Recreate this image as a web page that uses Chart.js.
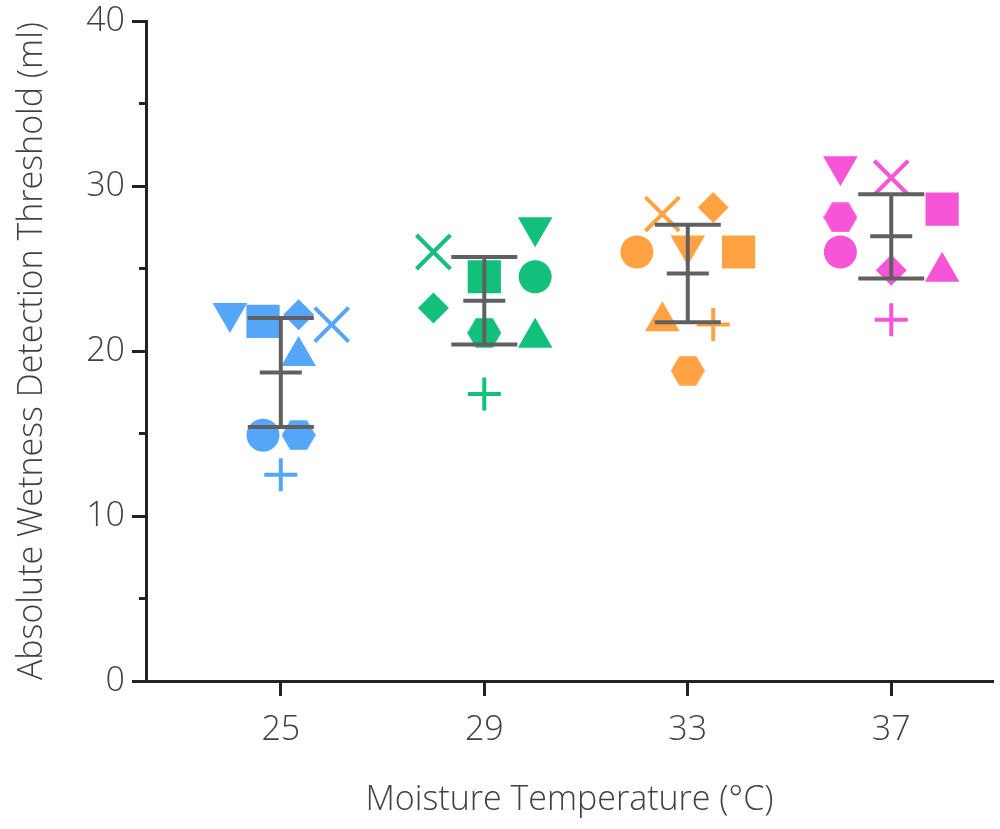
<!DOCTYPE html>
<html lang="en">

<head>
    <meta charset="UTF-8">
    <meta name="viewport" content="width=device-width, initial-scale=1.0">
    <title>Absolute Wetness Detection Threshold</title>
    <script src="https://cdn.jsdelivr.net/npm/chart.js"></script>
    <style>
        * {
            margin: 0;
            padding: 0;
            box-sizing: border-box;
        }

        body {
            background-color: #fff;
        }

        .container {
            width: 1000px;
            height: 829px;
        }
    </style>
</head>

<body>
    <div class="container">
        <canvas id="threshold-chart" width="1000" height="829"></canvas>
    </div>

    <script>
        // moisture temperatures (°C)
        const temps = [25, 29, 33, 37];
        const groupColors = ['#55a5f8', '#12bf7b', '#ffa342', '#f655d7'];

        // one array per subject marker, values for 25, 29, 33, 37 °C
        const circleVals = [14.9, 24.5, 26.0, 26.0];
        const squareVals = [21.8, 24.5, 26.0, 28.6];
        const triUpVals = [19.7, 20.8, 21.8, 24.8];
        const triDownVals = [22.3, 27.5, 26.4, 31.2];
        const diamondVals = [22.2, 22.6, 28.7, 24.9];
        const hexagonVals = [14.9, 21.1, 18.8, 28.1];
        const plusVals = [12.5, 17.4, 21.6, 21.9];
        const crossVals = [21.6, 26.0, 28.3, 30.5];

        // horizontal jitter of each marker (in °C)
        const circleJit = [-0.35, 1, -1, -1];
        const squareJit = [-0.35, 0, 1, 1];
        const triUpJit = [0.35, 1, -0.5, 1];
        const triDownJit = [-1, 1, 0, -1];
        const diamondJit = [0.35, -1, 0.5, 0];
        const hexagonJit = [0.35, 0, 0, -1];
        const plusJit = [0, 0, 0.5, 0];
        const crossJit = [1, -1, -0.5, 0];

        // group mean and error bar half length
        const means = [18.7, 23.05, 24.7, 26.95];
        const errs = [3.3, 2.65, 2.95, 2.55];

        const yTicks = [0, 10, 20, 30, 40];
        const yMinorTicks = [5, 15, 25, 35];

        function points(vals, jit) {
            return vals.map(function (v, i) {
                return { x: temps[i] + jit[i], y: v };
            });
        }

        function makeHexagon(color) {
            var c = document.createElement('canvas');
            c.width = 34;
            c.height = 30;
            var g = c.getContext('2d');
            var s = 17, h = Math.sqrt(3) * s / 2;
            g.fillStyle = color;
            g.beginPath();
            g.moveTo(17 - s, 15);
            g.lineTo(17 - s / 2, 15 - h);
            g.lineTo(17 + s / 2, 15 - h);
            g.lineTo(17 + s, 15);
            g.lineTo(17 + s / 2, 15 + h);
            g.lineTo(17 - s / 2, 15 + h);
            g.closePath();
            g.fill();
            return c;
        }

        function markerSet(vals, jit, style, radius, extra) {
            return Object.assign({
                data: points(vals, jit),
                pointStyle: style,
                pointRadius: radius,
                backgroundColor: groupColors,
                borderColor: groupColors,
                borderWidth: 0,
                showLine: false
            }, extra || {});
        }

        // keep the plot area where the reference has it
        function noEdgePadding(scale) {
            scale.paddingLeft = 0;
            scale.paddingRight = 0;
            scale.paddingTop = 0;
            scale.paddingBottom = 0;
        }

        // mean and error bars on top of the markers, minor y ticks
        const meanBars = {
            id: 'meanBars',
            afterDatasetsDraw: function (chart) {
                var ctx = chart.ctx;
                var xs = chart.scales.x, ys = chart.scales.y;
                ctx.save();
                ctx.strokeStyle = '#606060';
                ctx.lineWidth = 4;
                temps.forEach(function (t, i) {
                    var px = xs.getPixelForValue(t);
                    var top = ys.getPixelForValue(means[i] + errs[i]);
                    var bot = ys.getPixelForValue(means[i] - errs[i]);
                    var mid = ys.getPixelForValue(means[i]);
                    ctx.beginPath();
                    ctx.moveTo(px, top);
                    ctx.lineTo(px, bot);
                    ctx.moveTo(px - 33, top);
                    ctx.lineTo(px + 33, top);
                    ctx.moveTo(px - 33, bot);
                    ctx.lineTo(px + 33, bot);
                    ctx.moveTo(px - 21, mid);
                    ctx.lineTo(px + 21, mid);
                    ctx.stroke();
                });
                ctx.strokeStyle = '#222';
                ctx.lineWidth = 3;
                yMinorTicks.forEach(function (v) {
                    var py = ys.getPixelForValue(v);
                    ctx.beginPath();
                    ctx.moveTo(ys.right - 7, py);
                    ctx.lineTo(ys.right, py);
                    ctx.stroke();
                });
                ctx.restore();
            }
        };

        Chart.defaults.font.family = '"Open Sans", sans-serif';
        Chart.defaults.font.weight = 300;
        Chart.defaults.color = '#404040';

        var ctx = document.getElementById('threshold-chart').getContext('2d');
        var myChart = new Chart(ctx, {
            type: 'scatter',
            data: {
                datasets: [
                    markerSet(circleVals, circleJit, 'circle', 16.5),
                    markerSet(squareVals, squareJit, 'rect', 23.5),
                    markerSet(triUpVals, triUpJit, 'triangle', 20),
                    markerSet(triDownVals, triDownJit, 'triangle', 20, { rotation: 180 }),
                    markerSet(diamondVals, diamondJit, 'rectRot', 15.5),
                    markerSet(hexagonVals, hexagonJit, groupColors.map(makeHexagon), 17),
                    markerSet(plusVals, plusJit, 'cross', 16.5, { borderWidth: 4 }),
                    markerSet(crossVals, crossJit, 'crossRot', 24, { borderWidth: 4 })
                ]
            },
            options: {
                responsive: false,
                animation: false,
                layout: {
                    autoPadding: false,
                    padding: { top: 21, right: 7, bottom: 0, left: 0 }
                },
                plugins: {
                    legend: { display: false },
                    tooltip: { enabled: false }
                },
                scales: {
                    x: {
                        type: 'linear',
                        min: 22.35,
                        max: 39,
                        afterBuildTicks: function (scale) {
                            scale.ticks = temps.map(function (t) { return { value: t }; });
                        },
                        afterFit: function (scale) {
                            scale.height = 148;
                            noEdgePadding(scale);
                        },
                        grid: {
                            drawOnChartArea: false,
                            tickLength: 15,
                            tickWidth: 3,
                            tickColor: '#222'
                        },
                        border: { color: '#222', width: 3 },
                        ticks: {
                            font: { size: 34 },
                            padding: 14
                        },
                        title: {
                            display: true,
                            text: 'Moisture Temperature (°C)',
                            font: { size: 34 },
                            padding: { top: 0, bottom: 8 }
                        }
                    },
                    y: {
                        min: 0,
                        max: 40,
                        afterBuildTicks: function (scale) {
                            scale.ticks = yTicks.map(function (v) { return { value: v }; });
                        },
                        afterFit: function (scale) {
                            scale.width = 146;
                            noEdgePadding(scale);
                        },
                        grid: {
                            drawOnChartArea: false,
                            tickLength: 14,
                            tickWidth: 3,
                            tickColor: '#222'
                        },
                        border: { color: '#222', width: 3 },
                        ticks: {
                            font: { size: 34 },
                            padding: 7
                        },
                        title: {
                            display: true,
                            text: 'Absolute Wetness Detection Threshold (ml)',
                            font: { size: 34 },
                            padding: { top: 12, bottom: 0 }
                        }
                    }
                }
            },
            plugins: [meanBars]
        });
    </script>
</body>

</html>
